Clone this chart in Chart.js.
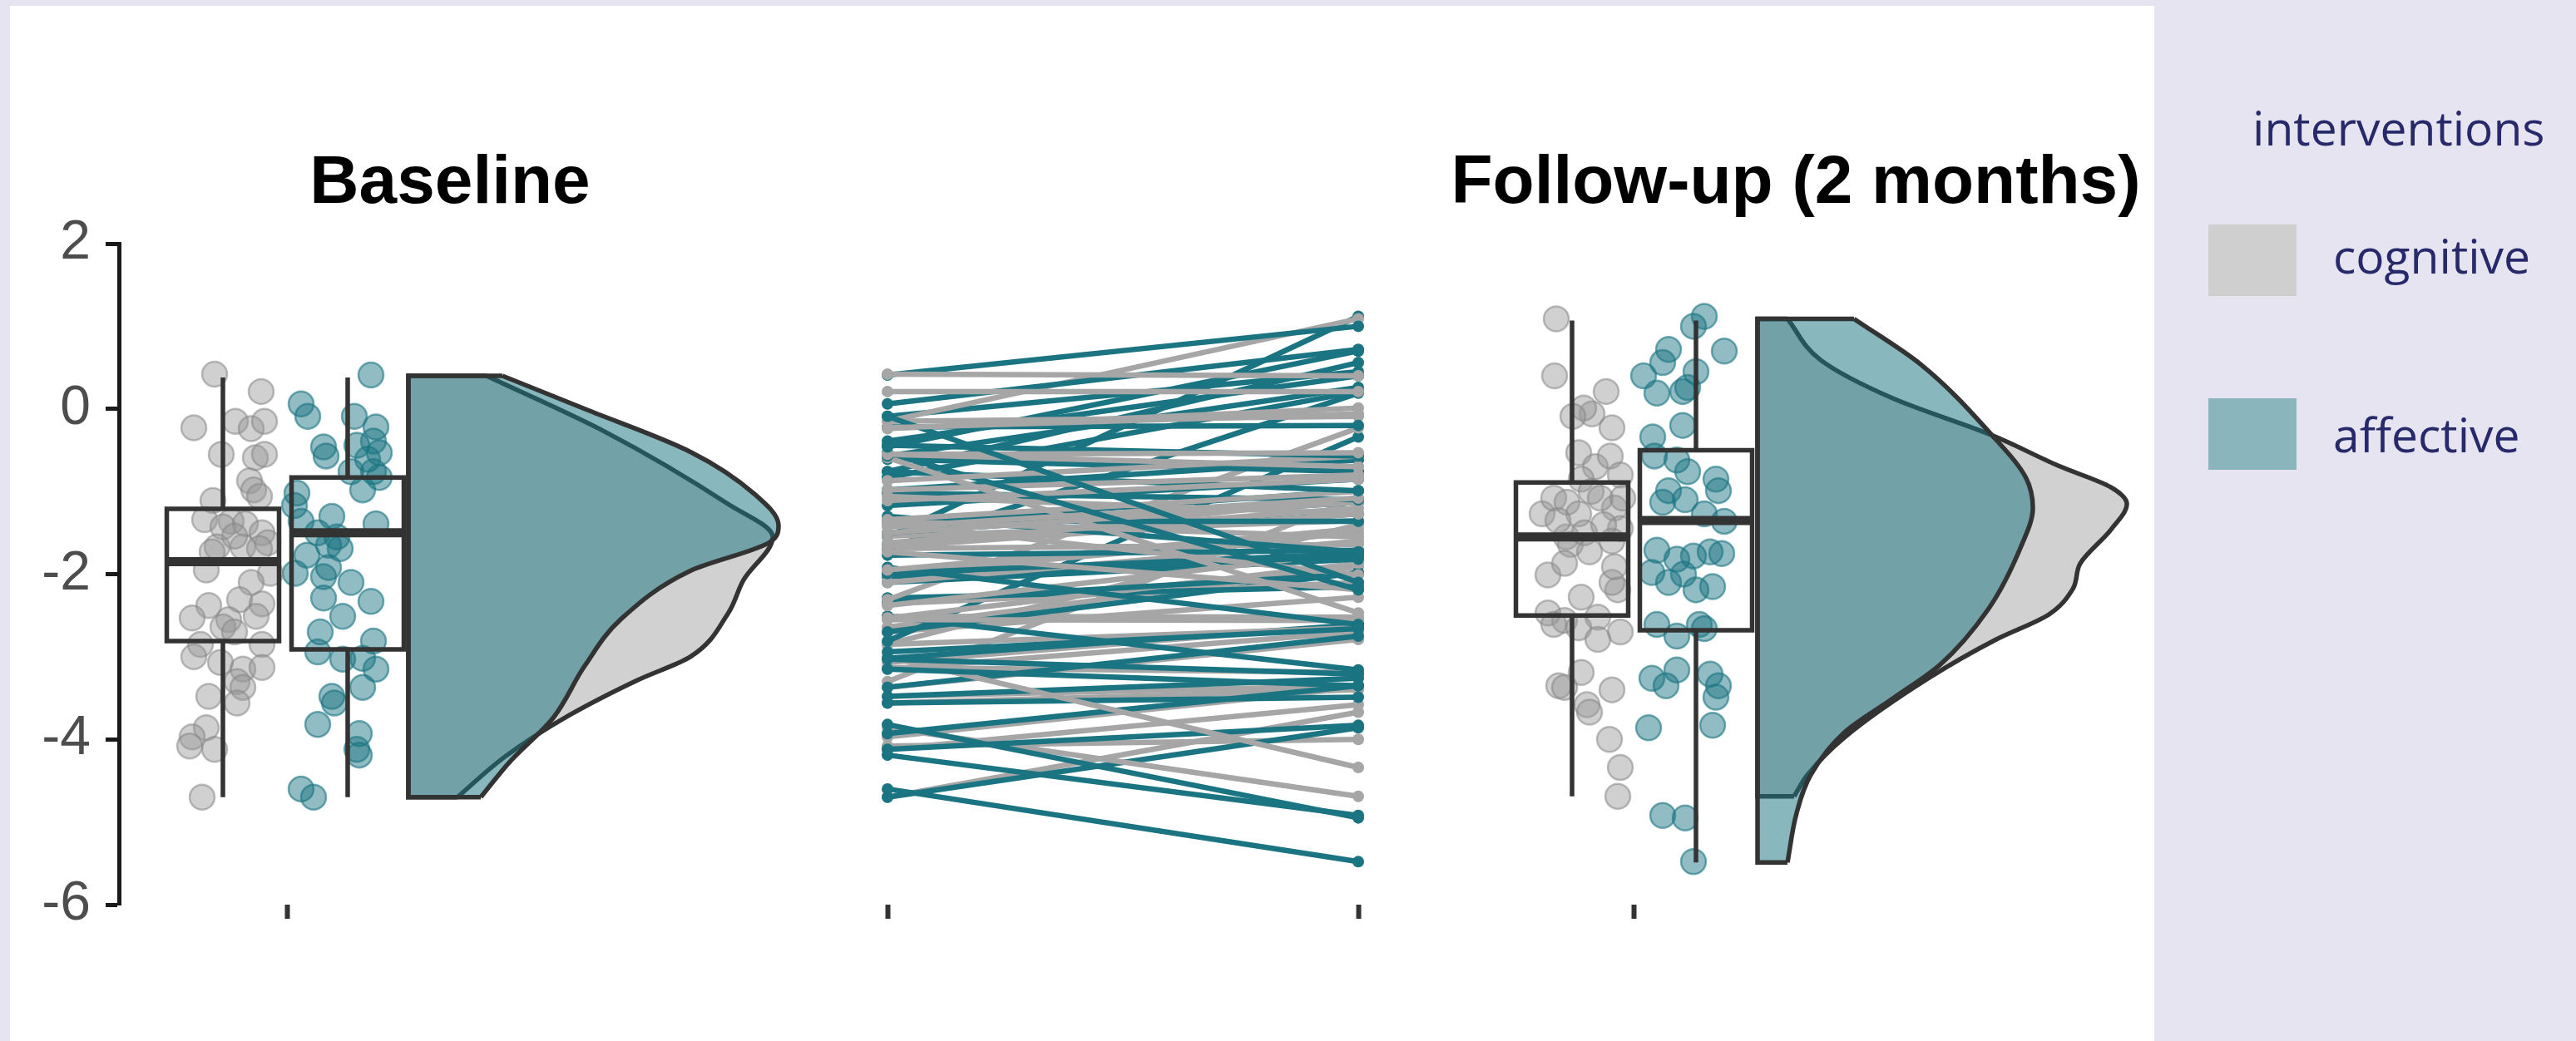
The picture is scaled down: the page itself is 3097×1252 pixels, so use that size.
<!DOCTYPE html>
<html lang="en">
  <head>
    <meta charset="UTF-8" />
    <title>Baseline vs follow-up raincloud</title>
    <script src="https://cdn.jsdelivr.net/npm/chart.js"></script>
    <style>
      body {
        margin: 0;
        width: 3097px;
        height: 1252px;
        overflow: hidden;
        background: #e5e4f0;
        position: relative;
      }
      #panel {
        position: absolute;
        left: 12px;
        top: 7px;
        width: 2578px;
        height: 1245px;
        background: #ffffff;
      }
      #chart {
        position: absolute;
        left: 0;
        top: 0;
      }
      .title {
        position: absolute;
        top: 175px;
        transform: translateX(-50%);
        font-family: "Liberation Sans", Arial, sans-serif;
        font-weight: bold;
        font-size: 82px;
        line-height: 1;
        color: #000;
        white-space: nowrap;
      }
      .legend-text {
        position: absolute;
        font-family: "Open Sans", sans-serif;
        font-size: 57px;
        line-height: 1;
        color: #27296b;
        white-space: nowrap;
      }
      .key {
        position: absolute;
        left: 2655px;
        width: 106px;
        height: 86px;
      }
    </style>
  </head>
  <body>
    <div id="panel"></div>
    <canvas id="chart" width="3097" height="1252"></canvas>

    <div class="title" style="left: 541px">Baseline</div>
    <div class="title" style="left: 2159px">Follow-up (2 months)</div>

    <div class="legend-text" style="left: 2708px; top: 125px">interventions</div>
    <div class="key" style="top: 270px; background: #cfcfcf"></div>
    <div class="legend-text" style="left: 2805px; top: 279px">cognitive</div>
    <div class="key" style="top: 479px; background: #8ab5bc"></div>
    <div class="legend-text" style="left: 2805px; top: 494px">affective</div>

    <script>
      // scores per participant, same order in baseline and follow-up
      const cogBaseline = [0.42, 0.21, -0.23, -0.15, -0.24, -0.15, -0.55, -0.59, -0.55, -0.87, -0.98, -1.06, -1.11, -1.34, -1.36, -1.43, -1.39, -1.5, -1.62, -1.67, -1.73, -1.67, -1.54, -1.69, -1.95, -1.99, -2.1, -2.38, -2.31, -2.53, -2.55, -2.36, -2.51, -2.64, -2.7, -2.85, -2.85, -3.0, -3.07, -3.15, -3.13, -3.3, -3.37, -3.48, -3.56, -3.86, -3.97, -4.12, -4.08, -4.7];
      const cogFollowup = [0.4, 0.21, -0.06, 1.09, 0.01, -0.09, -0.53, -2.47, -0.7, -0.57, -0.8, -1.27, -0.85, -1.0, -1.55, -1.08, -2.01, -1.13, -1.2, -1.08, -2.19, -1.27, -1.35, -1.64, -1.45, -1.5, -1.6, -1.73, -0.23, -1.87, -2.56, -2.1, -2.52, -1.91, -2.28, -2.65, -1.4, -4.34, -2.61, -2.7, -3.19, -1.08, -2.79, -3.35, -3.4, -4.69, -3.37, -3.58, -4.0, -3.67];
      const affBaseline = [0.41, 0.06, -0.09, -0.09, -0.22, -0.46, -0.57, -0.44, -0.39, -0.53, -0.61, -0.76, -0.76, -0.98, -0.83, -1.02, -1.17, -1.36, -1.3, -1.39, -1.5, -1.65, -1.69, -1.77, -1.99, -1.92, -2.03, -2.1, -2.33, -2.29, -2.51, -2.7, -2.81, -2.94, -3.03, -3.02, -3.15, -3.37, -3.48, -3.56, -3.82, -3.93, -4.12, -4.19, -4.6, -4.7, -1.55];
      const affFollowup = [1.0, 0.72, -2.1, 0.45, -0.2, 0.7, 0.26, -0.57, 0.4, -2.19, -0.76, 0.56, -0.99, -0.62, 0.21, -1.1, -0.85, -1.36, -1.73, -0.99, -1.13, -1.27, 0.19, -1.71, -1.75, -2.61, -1.78, -1.82, -2.0, -2.15, -3.16, -1.98, -0.34, -2.66, -3.21, -2.61, -3.35, -2.75, -3.26, -3.49, -4.95, -3.35, -3.83, -4.92, -5.48, -3.86, 1.12];

      // horizontal jitter of each dot, relative to its box centre
      const cogBaseJitter = [-0.1, 0.46, -0.35, 0.15, 0.34, 0.5, -0.02, 0.39, 0.5, 0.32, 0.37, 0.44, -0.12, -0.22, 0.1, 0.0, 0.27, 0.47, 0.54, -0.07, -0.13, 0.24, 0.14, 0.44, -0.2, 0.57, 0.34, -0.17, 0.2, -0.37, 0.07, 0.47, 0.4, 0.0, 0.14, -0.27, 0.47, -0.35, -0.03, 0.24, 0.47, 0.17, 0.24, -0.17, 0.17, -0.2, -0.37, -0.1, -0.4, -0.25];
      const cogFollowJitter = [-0.21, 0.41, 0.24, -0.19, 0.14, 0.01, 0.08, -0.29, 0.28, 0.46, 0.58, -0.36, 0.11, 0.23, -0.07, -0.22, -0.29, -0.06, 0.51, 0.34, 0.55, 0.08, -0.17, -0.02, 0.58, 0.15, 0.48, 0.21, 0.48, -0.09, -0.09, 0.48, 0.31, 0.51, 0.11, 0.08, 0.38, 0.58, -0.22, 0.58, 0.11, 0.61, 0.31, -0.16, 0.48, 0.55, -0.09, 0.18, 0.45, 0.21];
      const affBaseJitter = [0.28, -0.56, -0.48, 0.08, 0.34, -0.29, -0.26, 0.11, 0.31, 0.38, 0.24, 0.31, 0.04, 0.18, 0.38, -0.61, -0.64, -0.56, -0.19, 0.34, -0.36, -0.23, -0.09, -0.49, -0.63, -0.23, -0.29, 0.04, 0.28, -0.29, -0.06, -0.33, 0.31, -0.36, -0.06, 0.18, 0.34, 0.18, -0.19, -0.16, -0.36, 0.14, 0.11, 0.14, -0.56, -0.41, -0.13];
      const affFollowJitter = [-0.03, -0.33, -0.33, 0.0, -0.16, 0.34, -0.1, -0.5, -0.63, 0.0, -0.1, -0.4, 0.27, -0.23, -0.16, -0.13, 0.24, 0.34, 0.17, -0.33, -0.4, 0.1, -0.47, -0.47, 0.31, -0.47, -0.03, -0.23, -0.15, 0.2, -0.23, -0.53, -0.52, 0.1, 0.17, 0.04, -0.36, -0.23, -0.53, 0.24, -0.13, 0.27, 0.2, -0.4, -0.03, -0.57, 0.1];

      // box stats: [lower whisker, q1, median, q3, upper whisker]
      const boxBaseCog = [-4.7, -2.81, -1.85, -1.21, 0.38];
      const boxBaseAff = [-4.7, -2.91, -1.5, -0.83, 0.38];
      const boxFollowCog = [-4.69, -2.5, -1.55, -0.89, 1.07];
      const boxFollowAff = [-5.49, -2.68, -1.35, -0.5, 1.07];

      // half violins: score levels and density width at each level
      const densBaseCogY = [0.4, -0.28, -1.15, -1.55, -2.07, -2.48, -3.0, -3.28, -3.71, -4.21, -4.7];
      const densBaseCogW = [0.94, 2.37, 3.84, 4.38, 4.03, 3.84, 3.39, 2.76, 1.93, 1.16, 0.59];
      const densBaseAffY = [0.4, 0.0, -0.52, -1.03, -1.41, -1.61, -1.96, -2.54, -3.11, -3.74, -4.27, -4.7];
      const densBaseAffW = [1.13, 2.12, 3.39, 4.16, 4.45, 4.35, 3.39, 2.56, 2.12, 1.74, 1.22, 0.87];
      const densFollowCogY = [1.09, 0.59, 0.13, -0.32, -0.69, -0.95, -1.15, -1.46, -1.87, -2.18, -2.49, -2.79, -3.25, -3.98, -4.43, -4.69];
      const densFollowCogW = [0.36, 0.76, 1.62, 2.82, 3.62, 4.25, 4.44, 4.25, 3.88, 3.79, 3.5, 2.87, 2.07, 1.04, 0.6, 0.44];
      const densFollowAffY = [1.09, 0.54, -0.32, -0.84, -1.2, -1.66, -2.43, -3.1, -3.51, -3.92, -4.43, -4.89, -5.49];
      const densFollowAffW = [1.16, 1.96, 2.82, 3.23, 3.31, 3.17, 2.77, 2.19, 1.62, 1.04, 0.64, 0.47, 0.36];

      // x-axis tick marks (no labels)
      const xTickPositions = [2.02, 9.24, 14.9, 18.21];
      const yTickStep = 2;

      // where things sit along the x scale
      const pos = {
        baseCog: 1.25,
        baseAff: 2.75,
        baseViolin: 3.48,
        pre: 9.24,
        post: 14.9,
        followCog: 17.47,
        followAff: 18.96,
        followViolin: 19.7,
      };
      const boxWidth = 1.35;

      const GREY = "#a6a6a6";
      const TEAL = "#1a7482";
      const OUTLINE = "#333333";

      const datasets = [];
      function add(ds, order) {
        ds.order = order; // higher order is drawn further back
        ds.pointRadius = ds.pointRadius ?? 0;
        datasets.push(ds);
      }

      function violin(ys, ws, base, colour, order) {
        const last = ys.length - 1;
        // curved side, filled back to the base line
        add(
          {
            indexAxis: "y",
            data: ys.map((y, i) => ({ x: base + ws[i], y: y })),
            fill: { value: base },
            backgroundColor: colour,
            borderColor: OUTLINE,
            borderWidth: 5.5,
            cubicInterpolationMode: "monotone",
          },
          order
        );
        // flat top, base and bottom
        add(
          {
            data: [
              { x: base + ws[0], y: ys[0] },
              { x: base, y: ys[0] },
              { x: base, y: ys[last] },
              { x: base + ws[last], y: ys[last] },
            ],
            borderColor: OUTLINE,
            borderWidth: 5.5,
            fill: false,
          },
          order - 1
        );
      }

      function boxplot(stats, centre, order) {
        const [lo, q1, med, q3, hi] = stats;
        const l = centre - boxWidth / 2;
        const r = centre + boxWidth / 2;
        add(
          {
            data: [
              { x: centre, y: hi },
              { x: centre, y: q3 },
              { x: centre, y: null },
              { x: centre, y: q1 },
              { x: centre, y: lo },
            ],
            borderColor: OUTLINE,
            borderWidth: 5.5,
            fill: false,
          },
          order
        );
        add(
          {
            data: [
              { x: l, y: q1 },
              { x: r, y: q1 },
              { x: r, y: q3 },
              { x: l, y: q3 },
              { x: l, y: q1 },
            ],
            borderColor: OUTLINE,
            borderWidth: 5.5,
            borderCapStyle: "square",
            borderJoinStyle: "miter",
            fill: false,
          },
          order
        );
        add(
          {
            data: [
              { x: l, y: med },
              { x: r, y: med },
            ],
            borderColor: OUTLINE,
            borderWidth: 11,
            fill: false,
          },
          order
        );
      }

      function jitter(values, offsets, centre, fillCol, edgeCol, order) {
        add(
          {
            showLine: false,
            data: values.map((v, i) => ({ x: centre + offsets[i], y: v })),
            pointRadius: 15,
            pointBackgroundColor: fillCol,
            pointBorderColor: edgeCol,
            pointBorderWidth: 2.5,
          },
          order
        );
      }

      // violins: grey first, translucent teal over it
      violin(densBaseCogY, densBaseCogW, pos.baseViolin, "#d1d1d1", 100);
      violin(densBaseAffY, densBaseAffW, pos.baseViolin, "rgba(26,116,130,0.52)", 98);
      violin(densFollowCogY, densFollowCogW, pos.followViolin, "#d1d1d1", 100);
      violin(densFollowAffY, densFollowAffW, pos.followViolin, "rgba(26,116,130,0.52)", 98);

      // raw dots
      const cogFill = "rgba(150,150,150,0.45)", cogEdge = "rgba(135,135,135,0.55)";
      const affFill = "rgba(26,116,130,0.48)", affEdge = "rgba(26,116,130,0.6)";
      jitter(cogBaseline, cogBaseJitter, pos.baseCog, cogFill, cogEdge, 80);
      jitter(affBaseline, affBaseJitter, pos.baseAff, affFill, affEdge, 80);
      jitter(cogFollowup, cogFollowJitter, pos.followCog, cogFill, cogEdge, 80);
      jitter(affFollowup, affFollowJitter, pos.followAff, affFill, affEdge, 80);

      // boxes on top of the dots
      boxplot(boxBaseCog, pos.baseCog, 70);
      boxplot(boxBaseAff, pos.baseAff, 70);
      boxplot(boxFollowCog, pos.followCog, 70);
      boxplot(boxFollowAff, pos.followAff, 70);

      // one line per participant, groups interleaved
      function pairLine(before, after, colour) {
        return {
          data: [
            { x: pos.pre, y: before },
            { x: pos.post, y: after },
          ],
          borderColor: colour,
          borderWidth: 6.5,
          pointRadius: 7,
          pointBackgroundColor: colour,
          pointBorderWidth: 0,
          fill: false,
        };
      }
      const nPairs = Math.max(cogBaseline.length, affBaseline.length);
      for (let i = 0; i < nPairs; i++) {
        if (i < cogBaseline.length) add(pairLine(cogBaseline[i], cogFollowup[i], GREY), 10);
        if (i < affBaseline.length) add(pairLine(affBaseline[i], affFollowup[i], TEAL), 10);
      }

      new Chart(document.getElementById("chart"), {
        type: "line",
        data: { datasets: datasets },
        options: {
          responsive: false,
          animation: false,
          devicePixelRatio: 1,
          layout: { padding: { left: 0, right: 507, top: 293, bottom: 134 } },
          plugins: {
            legend: { display: false },
            tooltip: { enabled: false },
          },
          scales: {
            x: {
              type: "linear",
              min: 0,
              max: 24.47,
              afterBuildTicks: (scale) => {
                scale.ticks = xTickPositions.map((v) => ({ value: v }));
              },
              afterFit: (scale) => {
                scale.height = 30;
              },
              ticks: { display: false },
              border: { display: false },
              grid: {
                drawOnChartArea: false,
                tickLength: 17,
                tickWidth: 6,
                tickColor: OUTLINE,
              },
            },
            y: {
              type: "linear",
              min: -6,
              max: 2,
              afterFit: (scale) => {
                scale.width = 143;
              },
              ticks: {
                stepSize: yTickStep,
                padding: 18,
                color: "#4d4d4d",
                font: { family: "Liberation Sans", size: 66 },
              },
              border: { display: true, color: "#1a1a1a", width: 5 },
              grid: {
                drawOnChartArea: false,
                tickLength: 16,
                tickWidth: 5,
                tickColor: "#1a1a1a",
              },
            },
          },
        },
      });
    </script>
  </body>
</html>
